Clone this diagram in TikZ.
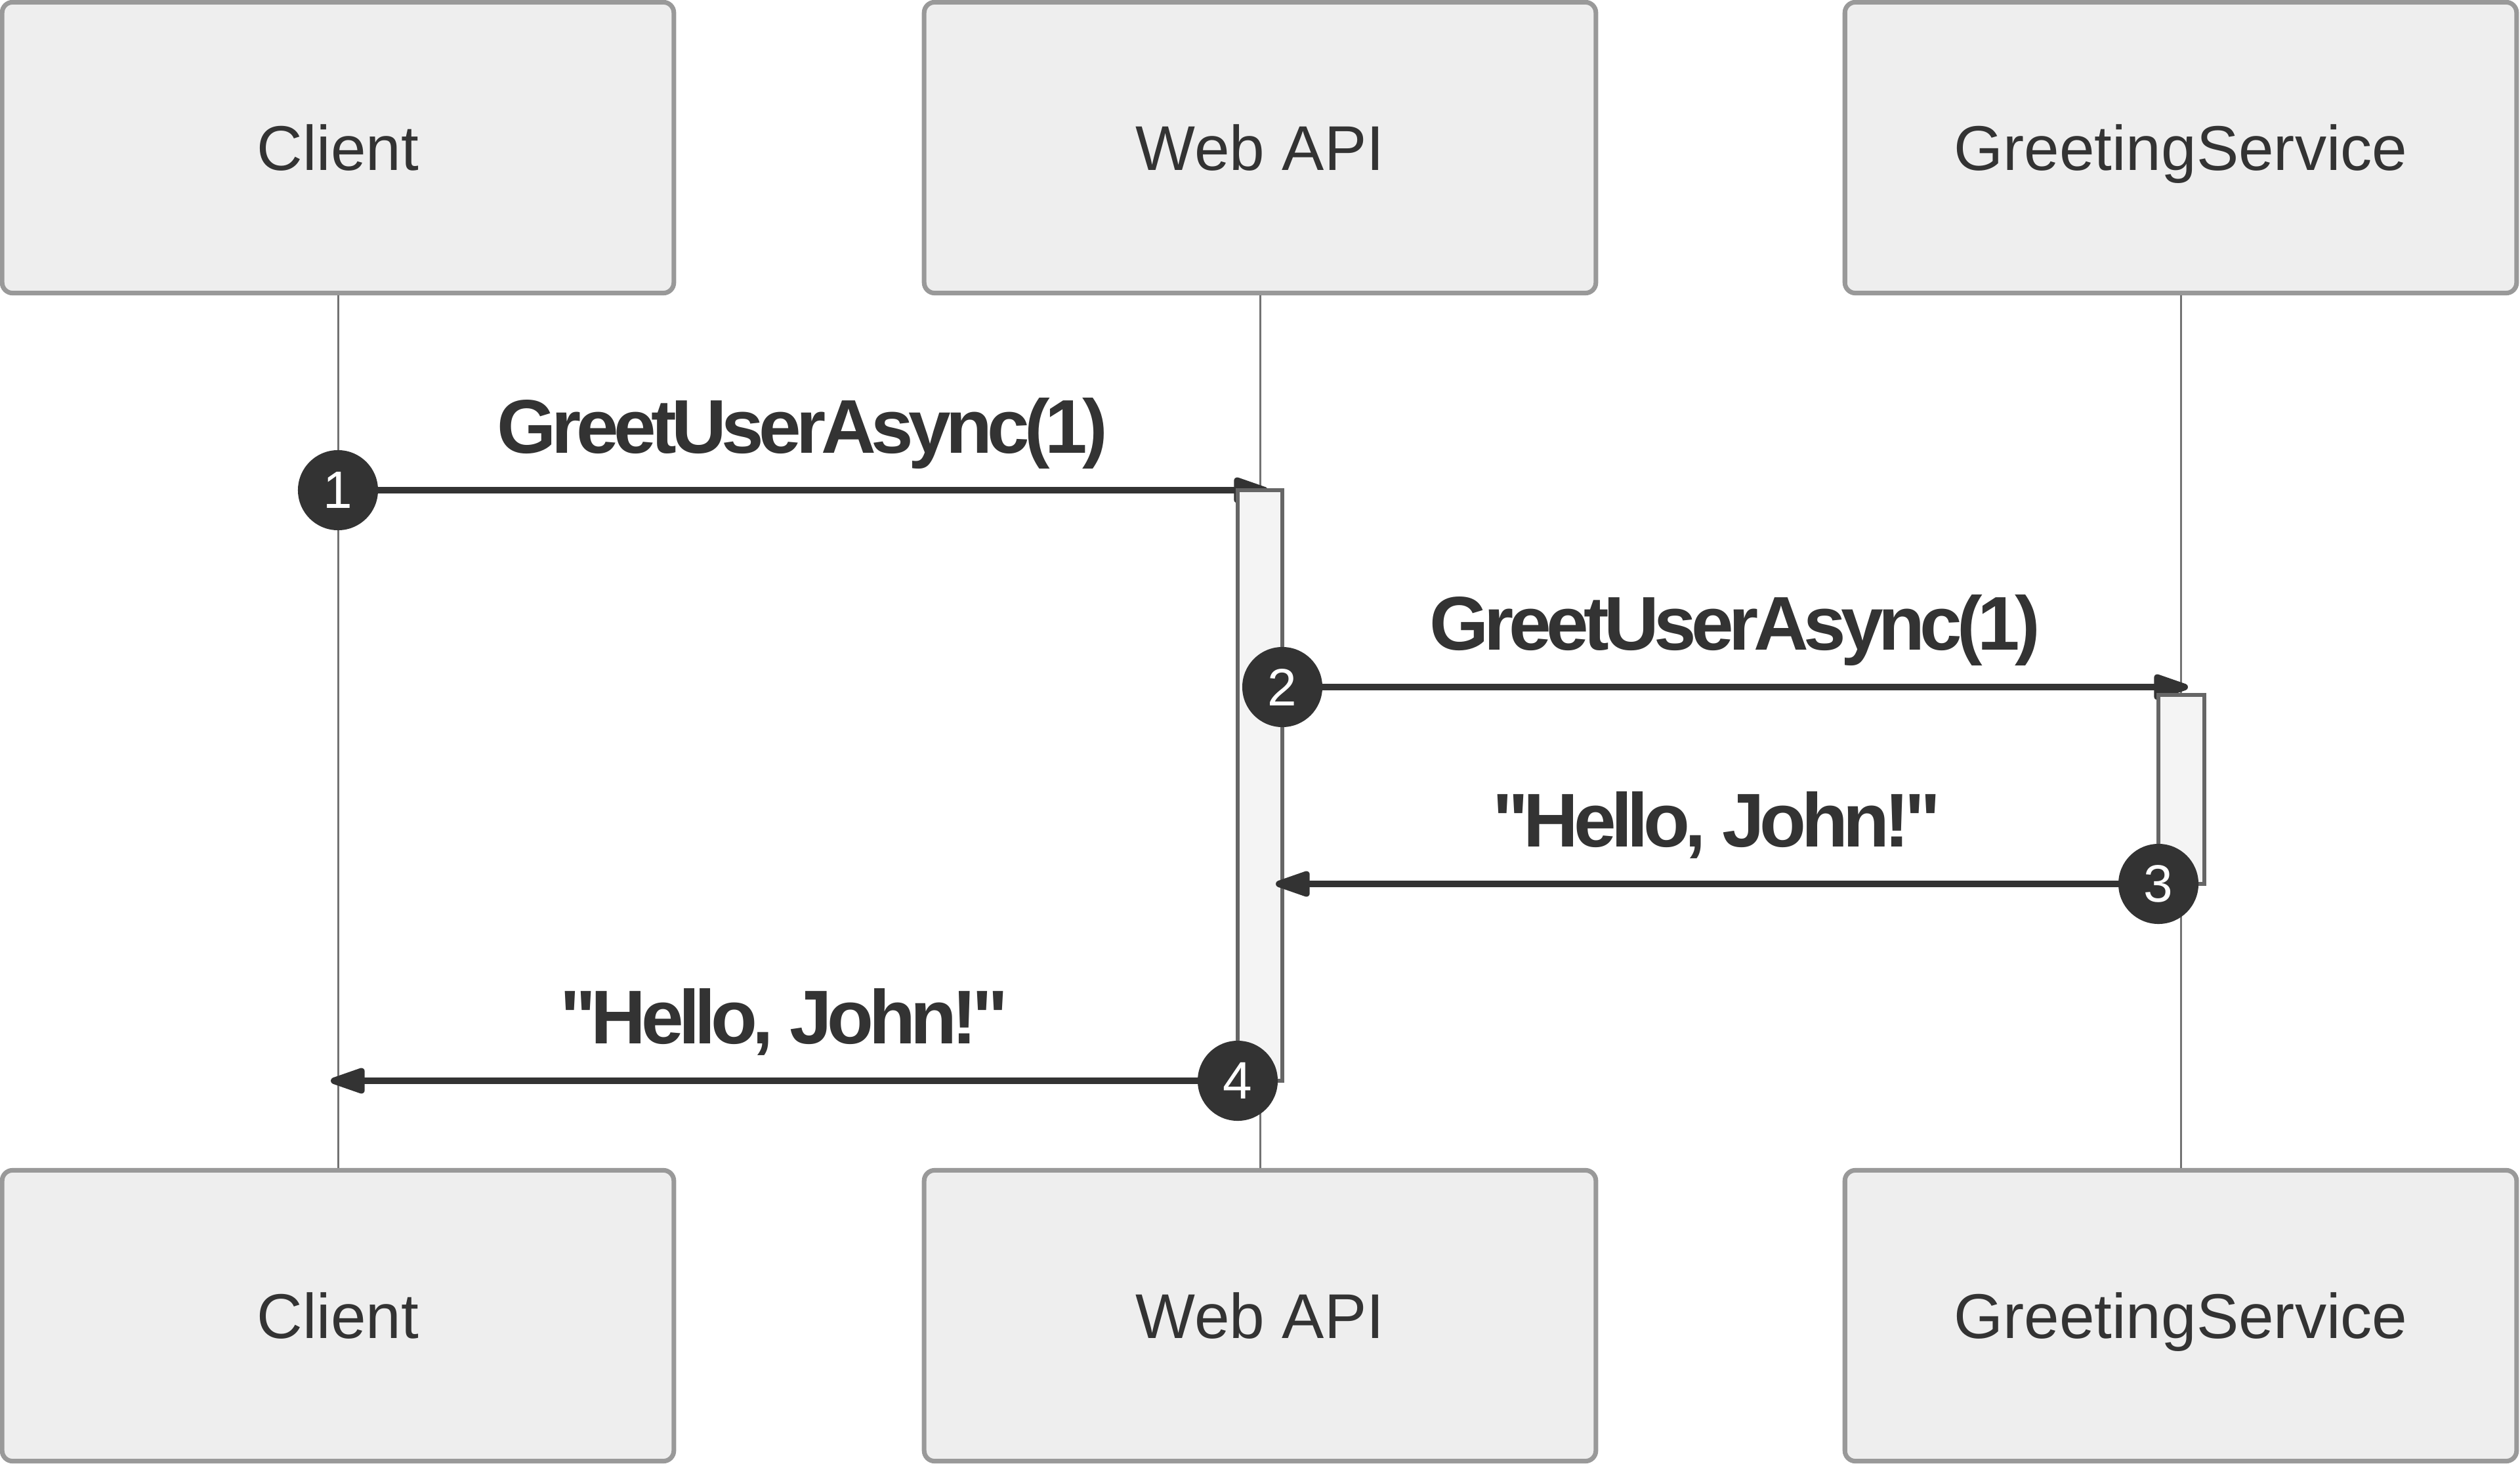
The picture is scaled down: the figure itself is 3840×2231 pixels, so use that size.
\documentclass[tikz,border=0pt]{standalone}
\usepackage{fontspec}
\setmainfont{Liberation Sans}[Ligatures=TeXOff]
\usetikzlibrary{arrows.meta}
\definecolor{txt}{HTML}{333333}
\definecolor{boxfill}{HTML}{EEEEEE}
\definecolor{boxline}{HTML}{999999}
\definecolor{lifeline}{HTML}{737373}
\definecolor{actfill}{HTML}{F4F4F4}
\definecolor{actline}{HTML}{666666}
\tikzset{
  actor/.style={draw=boxline, fill=boxfill, line width=2pt, rounded corners=0.16cm,
    minimum width=10.23cm, minimum height=4.43cm, inner sep=0pt, text=txt,
    text height=19.6pt, text depth=0pt,
    font=\fontsize{27.4pt}{32pt}\selectfont},
  life/.style={draw=lifeline, line width=0.85pt},
  actbox/.style={draw=actline, fill=actfill, line width=1.7pt, inner sep=0pt},
  msg/.style={draw=txt, line width=2.85pt,
    -{Triangle[length=18pt,width=11.4pt,round]}},
  num/.style={circle, fill=txt, text=white, minimum size=1.22cm, inner sep=0pt,
    font=\fontsize{22.8pt}{26pt}\selectfont},
  lbl/.style={text=txt, anchor=base, inner sep=0pt,
    font=\fontsize{33pt}{38pt}\bfseries\addfontfeature{LetterSpace=-6.5}\selectfont}
}
\begin{document}
\begin{tikzpicture}[x=0.01cm,y=-0.01cm]
\useasboundingbox (0,0) rectangle (3840,2231);
% actors
\node[actor] (cT) at (515,225) {Client};
\node[actor] (wT) at (1920,225) {Web API};
\node[actor] (gT) at (3323,225) {GreetingService};
\node[actor] (cB) at (515,2005) {Client};
\node[actor] (wB) at (1920,2005) {Web API};
\node[actor] (gB) at (3323,2005) {GreetingService};
% lifelines
\draw[life] (cT.south) -- (cB.north);
\draw[life] (wT.south) -- (wB.north);
\draw[life] (gT.south) -- (gB.north);
% end points
\coordinate (t1) at (1932,747);
\coordinate (t2) at (3334,1047);
\coordinate (t3) at (1944,1347);
\coordinate (t4) at (504,1647);
% number circles positions
\coordinate (p1) at (515,747);
\coordinate (p2) at (1954,1047);
\coordinate (p3) at (3289,1347);
\coordinate (p4) at (1886,1647);
% messages 1 and 2
\draw[msg] (p1) -- (t1);
\draw[msg] (p2) -- (t2);
% activation boxes
\node[actbox, minimum width=0.68cm, minimum height=9.00cm] (aW) at (1920,1197) {};
\node[actbox, minimum width=0.70cm, minimum height=2.87cm] (aG) at (3324,1203) {};
% messages 3 and 4
\draw[msg] (p3) -- (t3);
\draw[msg] (p4) -- (t4);
% circles
\node[num] (n1) at (p1) {1};
\node[num] (n2) at (p2) {2};
\node[num] (n3) at (p3) {3};
\node[num] (n4) at (p4) {4};
% labels
\node[lbl] (l1) at (1223,690) {GreetUserAsync(1)};
\node[lbl] (l2) at (2644,990) {GreetUserAsync(1)};
\node[lbl] (l3) at (2616,1290) {"Hello, John!"};
\node[lbl] (l4) at (1195,1590) {"Hello, John!"};
\end{tikzpicture}
\end{document}
